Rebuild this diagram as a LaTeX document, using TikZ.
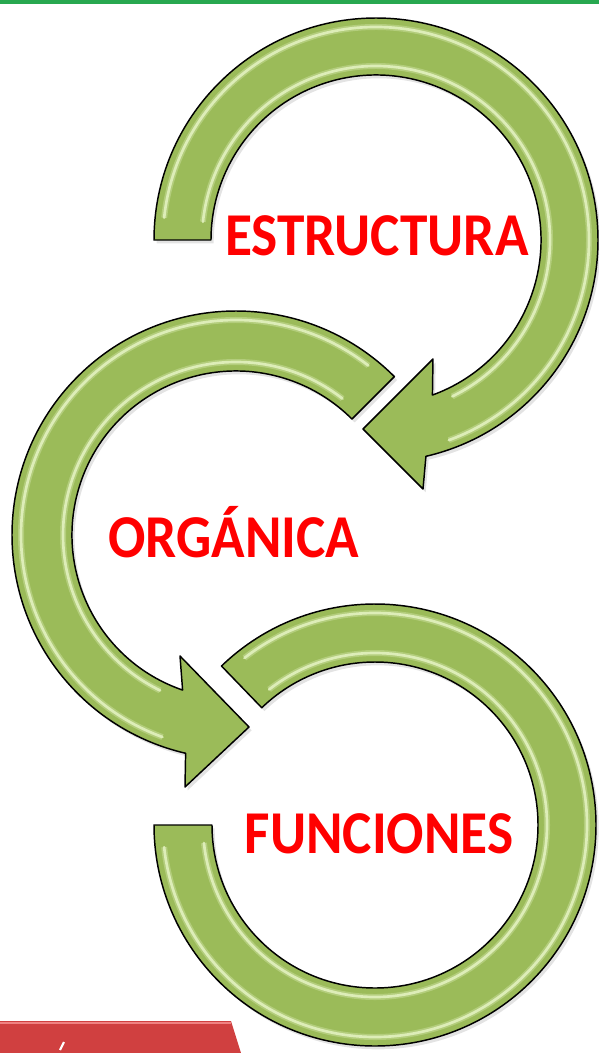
\documentclass[tikz,border=0pt]{standalone}
\usepackage{fontspec}
\newfontfamily\labelfont{Carlito}
\usetikzlibrary{calc,shadows}

\definecolor{ringgreen}{RGB}{155,187,89}
\definecolor{ringshine}{RGB}{236,248,205}
\definecolor{tabred}{RGB}{208,64,64}
\definecolor{topgreen}{RGB}{40,168,80}

\tikzset{every picture/.style={line width=0.75pt}}
\tikzset{
  ringshape/.style={draw=black, line width=1.1pt, fill=ringgreen, line join=round,
    drop shadow={opacity=0.22, shadow xshift=2pt, shadow yshift=-2.5pt}},
  ringshine/.style={draw=ringshine, line width=2pt, opacity=0.75, line cap=round,
    preaction={draw=ringshine, line width=4.5pt, opacity=0.3}},
  redlabel/.style={inner sep=0pt, text=red, font=\labelfont\bfseries\fontsize{41.5}{41.5}\selectfont}
}

\begin{document}
\begin{tikzpicture}[x=0.75pt,y=0.75pt,yscale=-1,xscale=1]
        \useasboundingbox (0,0) rectangle (599,1053);

        %Centres of the three rings
        \coordinate (T) at (376,240);
        \coordinate (M) at (236,535);
        \coordinate (B) at (375,825);

        %Top green line
        \fill [topgreen] (0,0) rectangle (599,3.5);

        %Shape: ring 3 (bottom, no head)
        \draw [ringshape] ($(B)+(-134:221)$) arc [start angle=-134, end angle=180, radius=221] -- ($(B)+(180:163)$) arc [start angle=180, end angle=-134, radius=163] -- cycle ;
        \draw [ringshine] ($(B)+(-128:212)$) arc [start angle=-128, end angle=174, radius=212] ;
        \draw [ringshine] ($(B)+(-128:172)$) arc [start angle=-128, end angle=174, radius=172] ;

        %Shape: ring 2 (middle, head to the right)
        \draw [ringshape] ($(M)+(-45:224)$) arc [start angle=-45, end angle=-257, radius=224] -- (185,787) -- (249,727) -- (180,656) -- ($(M)+(-251:164)$) arc [start angle=-251, end angle=-45, radius=164] -- cycle ;
        \draw [ringshine] ($(M)+(-52:215)$) arc [start angle=-52, end angle=-250, radius=215] ;
        \draw [ringshine] ($(M)+(-52:173)$) arc [start angle=-52, end angle=-244, radius=173] ;

        %Shape: ring 1 (top, head to the left)
        \draw [ringshape] ($(T)+(180:222)$) arc [start angle=180, end angle=437, radius=222] -- (423,489) -- (363,429) -- (433,359) -- ($(T)+(430:165)$) arc [start angle=430, end angle=180, radius=165] -- cycle ;
        \draw [ringshine] ($(T)+(186:213)$) arc [start angle=186, end angle=430, radius=213] ;
        \draw [ringshine] ($(T)+(186:174)$) arc [start angle=186, end angle=424, radius=174] ;

        %Shape: red tab, bottom left
        \fill [tabred] (0,1021) -- (231,1021) -- (241,1053) -- (0,1053) -- cycle ;
        \draw [color={rgb, 255:red, 240; green, 130; blue, 130 }, line width=1.5pt] (0,1022.5) -- (231,1022.5) ;
        \draw [white, line width=1.6pt] (60,1050) -- (64,1042) ;

        % Text Node
        \draw (377,236) node [redlabel] (estructura) {\scalebox{1}[1.1]{ESTRUCTURA}};
        % Text Node
        \draw (234,532) node [redlabel] (organica) {\scalebox{1}[1.1]{ORGÁNICA}};
        % Text Node
        \draw (379,834) node [redlabel] (funciones) {\scalebox{1}[1.1]{FUNCIONES}};

    \end{tikzpicture}
\end{document}
